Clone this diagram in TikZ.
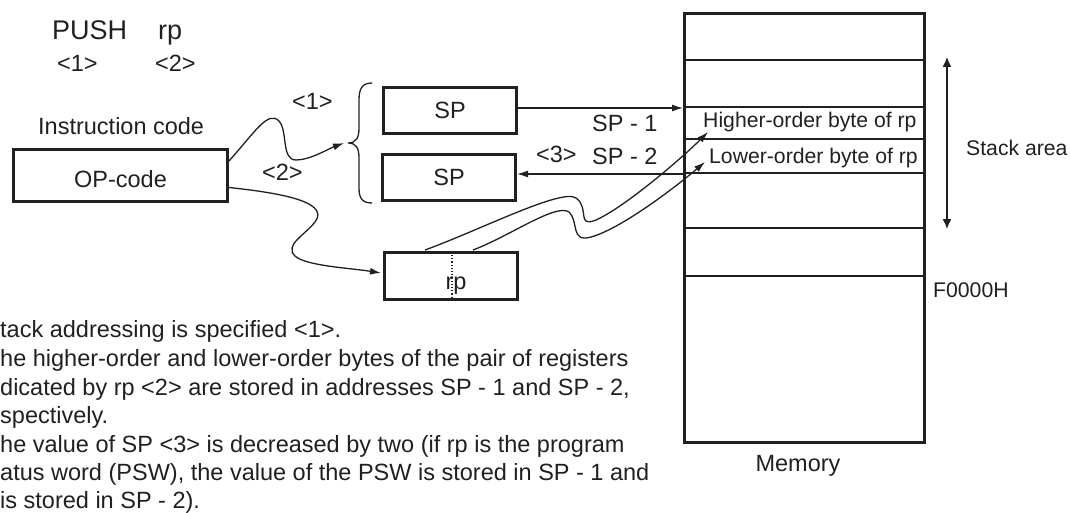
\documentclass[tikz,border=0pt]{standalone}
\usepackage{fontspec}
\setmainfont{Liberation Sans}
\usetikzlibrary{arrows.meta,calc}
\definecolor{ink}{RGB}{35,31,32}
\begin{document}
\begin{tikzpicture}[x=1pt,y=-1pt,
  every node/.style={text=ink},
  box/.style={draw=ink, line width=3pt, inner sep=0pt, font=\fontsize{23.5}{28}\selectfont},
  lbl/.style={inner sep=0pt, anchor=base west, font=\fontsize{23.5}{28}\selectfont},
  slbl/.style={lbl, font=\fontsize{21.2}{25}\selectfont},
  blbl/.style={lbl, font=\fontsize{27}{32}\selectfont},
  arr/.style={draw=ink, line width=1.3pt, -{Latex[length=11pt,width=7pt]}},
  cell/.style={draw=ink, line width=1.5pt},
]
\useasboundingbox (0,0) rectangle (1070,513);

% title
\node[blbl] (push) at (52,40) {PUSH};
\node[blbl] (rpt) at (158,40) {rp};
\node[lbl] (n1) at (57,72) {<1>};
\node[lbl] (n2) at (155,72) {<2>};
\node[lbl] (ic) at (38,135) {Instruction code};

% boxes
\node[box, minimum width=214pt, minimum height=52pt] (opcode) at (120.5,175.5) {};
\node[lbl, anchor=base] (opt) at (120.5,187) {OP-code};
\node[box, minimum width=133pt, minimum height=46pt] (sp1) at (450,110.5) {SP};
\node[box, minimum width=133pt, minimum height=46pt] (sp2) at (449,177.5) {SP};
\node[box, minimum width=133pt, minimum height=47pt] (rp) at (451,276) {};
\node[lbl, anchor=base] (rptx) at (456,289) {rp};
\draw[ink, line width=1.2pt, dotted] ($(rp.north)+(1,4)$) -- ($(rp.south)+(1,-4)$);

% memory
\node[box, minimum width=240pt, minimum height=429pt] (mem) at (804.5,228) {};
\foreach \yy in {60,107,173,228,276} {
  \draw[cell] (mem.west |- 0,\yy) -- (mem.east |- 0,\yy);
}
\draw[draw=ink, line width=2.6pt] (mem.west |- 0,139) -- (mem.east |- 0,139);
\coordinate (hitop) at (mem.west |- 0,108);
\coordinate (lobot) at (mem.west |- 0,174);
\node[slbl] (hitext) at (703,128) {Higher-order byte of rp};
\node[slbl] (lotext) at (709,164) {Lower-order byte of rp};
\node[lbl, anchor=base] (memlbl) at (798,471) {Memory};
\node[slbl] (f0) at (933,297) {F0000H};
\node[slbl] (sa) at (966,156) {Stack area};
\coordinate (sa1) at (947,57);
\coordinate (sa2) at (947,229);
\draw[draw=ink, line width=1.3pt, {Latex[length=10pt,width=9pt]}-{Latex[length=10pt,width=9pt]}] (sa1) -- (sa2);

% brace
\coordinate (bt) at (348,143);
\draw[draw=ink, line width=1.3pt] (372,83) .. controls (362,83) and (359,89) .. (359,100) -- (359,128)
  .. controls (359,138) and (356,143) .. (bt) .. controls (356,143) and (359,148) .. (359,158)
  -- (359,188) .. controls (359,198) and (362,203) .. (372,203);

% connectors
\draw[arr] (sp1.east |- hitop) -- (hitop);
\draw[arr] (lobot) -- (sp2.east |- lobot);
\node[lbl] (sp1l) at (592,132) {SP - 1};
\node[lbl] (n3) at (536,163) {<3>};
\node[lbl] (sp2l) at (592,165) {SP - 2};

\draw[arr] ($(opcode.north east)+(0,13)$) .. controls (255,132) and (268,110) .. (279,121)
  .. controls (288,131) and (281,160) .. (296,160) .. controls (310,160) and (328,149) .. ($(bt)+(-4,0)$);
\node[lbl] (m1) at (292,110) {<1>};
\node[lbl] (m2) at (262,181) {<2>};

\draw[arr] ($(opcode.east)+(0,12)$) .. controls (270,192) and (332,200) .. (315,222)
  .. controls (305,235) and (284,245) .. (295,256) .. controls (306,266) and (350,268) .. ($(rp.west)+(-2,-3)$);

\draw[arr] ($(rp.north)+(-26,-1)$) .. controls (480,230) and (562,188) .. (576,198)
  .. controls (590,208) and (576,228) .. (596,220) .. controls (625,207) and (682,158) .. ($(hitext.base west)+(5,4)$);
\draw[arr] ($(rp.north)+(22,-1)$) .. controls (510,236) and (556,203) .. (569,212)
  .. controls (579,221) and (570,243) .. (591,237) .. controls (620,229) and (672,190) .. ($(lotext.base west)+(-4,-2)$);

% notes
\node[lbl] (t1) at (0,337) {tack addressing is specified <1>.};
\node[lbl] (t2) at (0,366) {he higher-order and lower-order bytes of the pair of registers};
\node[lbl] (t3) at (0,395) {dicated by rp <2> are stored in addresses SP - 1 and SP - 2,};
\node[lbl] (t4) at (0,423) {spectively.};
\node[lbl] (t5) at (0,452) {he value of SP <3> is decreased by two (if rp is the program};
\node[lbl] (t6) at (0,480) {atus word (PSW), the value of the PSW is stored in SP - 1 and};
\node[lbl] (t7) at (0,508) {is stored in SP - 2).};
\end{tikzpicture}
\end{document}
